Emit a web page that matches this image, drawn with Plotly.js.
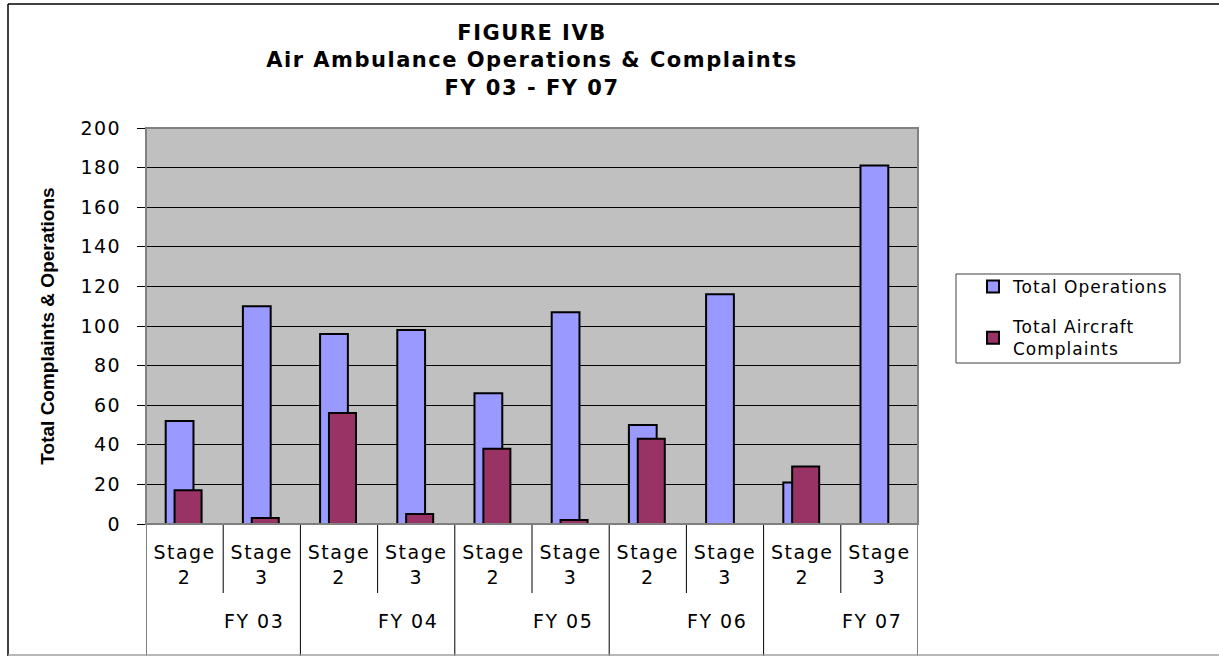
<!DOCTYPE html>
<html>
<head>
<meta charset="utf-8">
<script src="https://cdn.plot.ly/plotly-3.0.1.min.js"></script>
<style>
  html, body { margin: 0; padding: 0; background: #ffffff; }
  #chart { width: 1219px; height: 656px; }
  text { letter-spacing: 1.5px; }
  .gtitle, .gtitle tspan { letter-spacing: 1.5px; }
  .legendtext, .legendtext tspan { letter-spacing: 1px; }
  .ytitle, .ytitle tspan { letter-spacing: 0px; }
</style>
</head>
<body>
<div id="chart"></div>
<script>
// ---- Data ----
const fiscalYears = ["FY 03", "FY 04", "FY 05", "FY 06", "FY 07"];
const stages = ["Stage 2", "Stage 3"];
const totalOperations = [52, 110, 96, 98, 66, 107, 50, 116, 21, 181];
const totalComplaints = [17, 3, 56, 5, 38, 2, 43, 0, 29, 0];
const seriesNames = ["Total Operations", "Total Aircraft<br>Complaints"];
const yTicks = [0, 20, 40, 60, 80, 100, 120, 140, 160, 180, 200];

// category keys and labels
const xKeys = [];
const xLabels = [];
fiscalYears.forEach(fy => stages.forEach(st => {
  xKeys.push(fy + " " + st);
  xLabels.push(st.replace(" ", "<br>"));
}));

const FONT = "DejaVu Sans, Arial, sans-serif";

const traces = [
  {
    type: "bar", name: seriesNames[0], x: xKeys, y: totalOperations,
    width: 0.36, offset: -0.245, legendgroup: "ops",
    marker: { color: "#9999FF", line: { color: "#000000", width: 2 } },
    hoverinfo: "y"
  },
  {
    type: "bar", name: seriesNames[1], x: xKeys, y: totalComplaints,
    width: 0.35, offset: -0.13, legendgroup: "cmp",
    marker: { color: "#993366", line: { color: "#000000", width: 2 } },
    hoverinfo: "y"
  }
];

// table lines beneath the axis (category boundaries)
const plotH = 396, plotW = 772, L = 146, B = 524;
const py = p => (B - p) / plotH;   // pixel -> paper y
const px = p => (p - L) / plotW;   // pixel -> paper x
const shapes = [];
fiscalYears.forEach((fy, i) => {
  shapes.push({ type: "line", xref: "x", yref: "paper", x0: 2 * i - 0.5, x1: 2 * i - 0.5,
    y0: 0, y1: py(656), line: { color: "#000000", width: 1 } });
  shapes.push({ type: "line", xref: "x", yref: "paper", x0: 2 * i + 0.5, x1: 2 * i + 0.5,
    y0: 0, y1: py(593), line: { color: "#000000", width: 1 } });
});
shapes.push({ type: "line", xref: "x", yref: "paper", x0: xKeys.length - 0.5, x1: xKeys.length - 0.5,
  y0: 0, y1: py(656), line: { color: "#000000", width: 1 } });
// plot area border (grey)
shapes.push({ type: "rect", xref: "paper", yref: "paper", x0: 0, x1: 1, y0: 0, y1: 1,
  line: { color: "#808080", width: 2 }, layer: "above" });
// legend frame
shapes.push({ type: "rect", xref: "paper", yref: "paper", x0: px(956), x1: px(1180), y0: py(274), y1: py(363),
  line: { color: "#404040", width: 1 }, fillcolor: "#ffffff", layer: "below" });
// outer chart frame
shapes.push({ type: "line", xref: "paper", yref: "paper", x0: px(8), x1: px(8), y0: py(4), y1: py(660),
  line: { color: "#000000", width: 1.5 } });
shapes.push({ type: "line", xref: "paper", yref: "paper", x0: px(8), x1: px(1230), y0: py(4), y1: py(4),
  line: { color: "#000000", width: 1.5 } });
shapes.push({ type: "line", xref: "paper", yref: "paper", x0: px(8), x1: px(1230), y0: py(655), y1: py(655),
  line: { color: "#a0a0a0", width: 1.5 } });

// FY labels
const annotations = fiscalYears.map((fy, i) => ({
  text: fy, xref: "x", yref: "paper", x: 2 * i + 0.5 + 0.4, y: py(621),
  showarrow: false, xanchor: "center", yanchor: "middle",
  font: { family: FONT, size: 19, color: "#000000" }
}));

const layout = {
  width: 1219, height: 656,
  margin: { l: 146, r: 301, t: 128, b: 132, autoexpand: false },
  paper_bgcolor: "#ffffff",
  plot_bgcolor: "#C0C0C0",
  barmode: "overlay",
  showlegend: true,
  title: {
    text: "FIGURE IVB<br>Air Ambulance Operations & Complaints<br>FY 03 - FY 07",
    font: { family: FONT, size: 21, color: "#000000", weight: "bold" },
    x: 0.5, xref: "paper", xanchor: "center",
    y: 1 - 40 / 656, yref: "container", yanchor: "top"
  },
  xaxis: {
    type: "category",
    categoryorder: "array", categoryarray: xKeys,
    tickvals: xKeys, ticktext: xLabels,
    range: [-0.5, xKeys.length - 0.5],
    ticks: "", showline: true, linecolor: "#000000", linewidth: 1,
    showgrid: false, zeroline: false,
    tickfont: { family: FONT, size: 19, color: "#000000" },
    ticklabelstandoff: 11,
    automargin: false, fixedrange: true
  },
  yaxis: {
    range: [0, 200], tickvals: yTicks,
    ticks: "outside", ticklen: 8, tickcolor: "#000000", tickwidth: 1,
    showline: true, linecolor: "#000000", linewidth: 1,
    showgrid: true, gridcolor: "#000000", gridwidth: 1,
    zeroline: false,
    tickfont: { family: FONT, size: 19, color: "#000000" },
    ticklabelstandoff: 12,
    title: {
      text: "Total Complaints & Operations",
      font: { family: "Liberation Sans, Arial, sans-serif", size: 19, color: "#000000", weight: "bold" },
      standoff: 20
    },
    automargin: false, fixedrange: true
  },
  legend: {
    x: px(973), y: py(269), xanchor: "left", yanchor: "top",
    bgcolor: "rgba(0,0,0,0)", borderwidth: 0,
    font: { family: FONT, size: 17, color: "#000000" },
    tracegroupgap: 15, itemwidth: 30, traceorder: "grouped"
  },
  shapes: shapes,
  annotations: annotations
};

Plotly.newPlot("chart", traces, layout, { displayModeBar: false, staticPlot: true });
</script>
</body>
</html>
